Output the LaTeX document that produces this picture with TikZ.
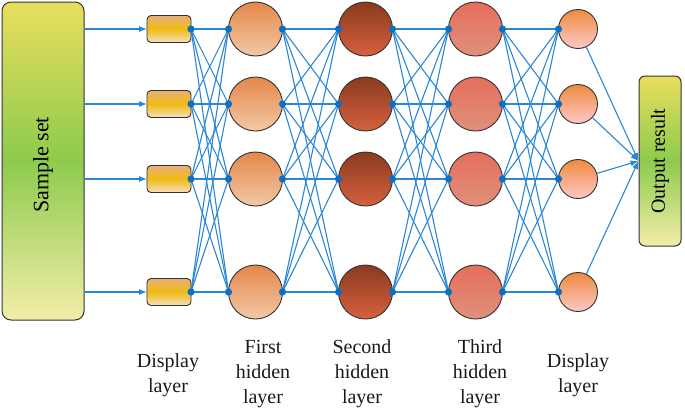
\documentclass[tikz,border=0pt]{standalone}
\usepackage{fontspec}
\setmainfont{Liberation Serif}
\newfontfamily\timesf{Liberation Serif}
\usetikzlibrary{arrows.meta}
\definecolor{wire}{HTML}{2A86D6}
\definecolor{dotc}{HTML}{0B6FC4}
\definecolor{edge}{HTML}{333333}
\tikzset{
  bigbox/.style={draw=edge, line width=1pt, rounded corners=9pt, top color=yellowtop, bottom color=yellowbot, middle color=greenmid, inner sep=0pt},
  inbox/.style={draw=edge, line width=0.9pt, rounded corners=4pt, minimum width=44pt, minimum height=27pt, inner sep=0pt, outer sep=0pt, top color=ibtop, bottom color=ibbot, middle color=ibmid},
  hone/.style={circle, draw=edge, line width=0.9pt, minimum size=54pt, inner sep=0pt, outer sep=0pt, top color=h1top, bottom color=h1bot},
  htwo/.style={circle, draw=edge, line width=0.9pt, minimum size=54pt, inner sep=0pt, outer sep=0pt, top color=h2top, bottom color=h2bot},
  hthree/.style={circle, draw=edge, line width=0.9pt, minimum size=54pt, inner sep=0pt, outer sep=0pt, top color=h3top, bottom color=h3bot},
  hout/.style={circle, draw=edge, line width=0.9pt, minimum size=39pt, inner sep=0pt, outer sep=0pt, top color=h4top, bottom color=h4bot},
  wireline/.style={draw=wire, line width=1.1pt},
  arrowline/.style={wireline, -{Latex[length=8pt,width=6pt]}},
  lbl/.style={align=center, font=\timesf\fontsize{20}{25}\selectfont, text=black!90},
}
\definecolor{yellowtop}{HTML}{E9DE5E}
\definecolor{greenmid}{HTML}{8DCB4D}
\definecolor{yellowbot}{HTML}{F3EDA9}
\definecolor{ibtop}{HTML}{E8B07A}
\definecolor{ibmid}{HTML}{F0BB12}
\definecolor{ibbot}{HTML}{F6DFC2}
\definecolor{h1top}{HTML}{E4884A}
\definecolor{h1bot}{HTML}{F3C8A6}
\definecolor{h2top}{HTML}{8B3A1F}
\definecolor{h2bot}{HTML}{D5613E}
\definecolor{h3top}{HTML}{E56E5C}
\definecolor{h3bot}{HTML}{E0907C}
\definecolor{h4top}{HTML}{EF8A3F}
\definecolor{h4bot}{HTML}{FDC9C8}
\begin{document}
\begin{tikzpicture}[x=1pt,y=-1pt]
\useasboundingbox (0,0) rectangle (685,418);
% big boxes
\node[bigbox, minimum width=82pt, minimum height=318pt] (sample) at (43,161) {};
\node[rotate=90, font=\timesf\fontsize{22}{26}\selectfont] (samplet) at (43,165) {Sample set};
\node[bigbox, rounded corners=6pt, minimum width=42pt, minimum height=170pt] (out) at (660,161) {};
\node[rotate=90, font=\timesf\fontsize{20}{24}\selectfont] (outt) at (660,161) {Output result};
% layers
\foreach \i/\y in {1/29,2/104,3/179,4/292}{
  \node[inbox] (b\i) at (169,\y) {};
  \node[hone] (f\i) at (255.5,\y) {};
  \node[htwo] (s\i) at (365.5,\y) {};
  \node[hthree] (t\i) at (475.5,\y) {};
  \node[hout] (d\i) at (578,\y) {};
}
% connectors
\foreach \i in {1,...,4}{
  \draw[arrowline] (sample.east |- b\i) -- (b\i.west);
  \foreach \j in {1,...,4}{
    \draw[wireline] (b\i.east) -- (f\j.west);
    \draw[wireline] (f\i.east) -- (s\j.west);
    \draw[wireline] (s\i.east) -- (t\j.west);
    \draw[wireline] (t\i.east) -- (d\j.west);
  }
  \draw[arrowline] (d\i) -- (out.west);
}
% dots
\foreach \i in {1,...,4}{
  \fill[dotc] (b\i.east) circle (3.6pt);
  \fill[dotc] (f\i.west) circle (3.6pt);
  \fill[dotc] (f\i.east) circle (3.6pt);
  \fill[dotc] (s\i.west) circle (3.6pt);
  \fill[dotc] (s\i.east) circle (3.6pt);
  \fill[dotc] (t\i.west) circle (3.6pt);
  \fill[dotc] (t\i.east) circle (3.6pt);
  \fill[dotc] (d\i.west) circle (3.6pt);
}
% labels
\node[lbl] (l1) at (168,375) {Display\\layer};
\node[lbl] (l2) at (263,374) {First\\hidden\\layer};
\node[lbl] (l3) at (362,374) {Second\\hidden\\layer};
\node[lbl] (l4) at (480,374) {Third\\hidden\\layer};
\node[lbl] (l5) at (578,375) {Display\\layer};
\end{tikzpicture}
\end{document}
